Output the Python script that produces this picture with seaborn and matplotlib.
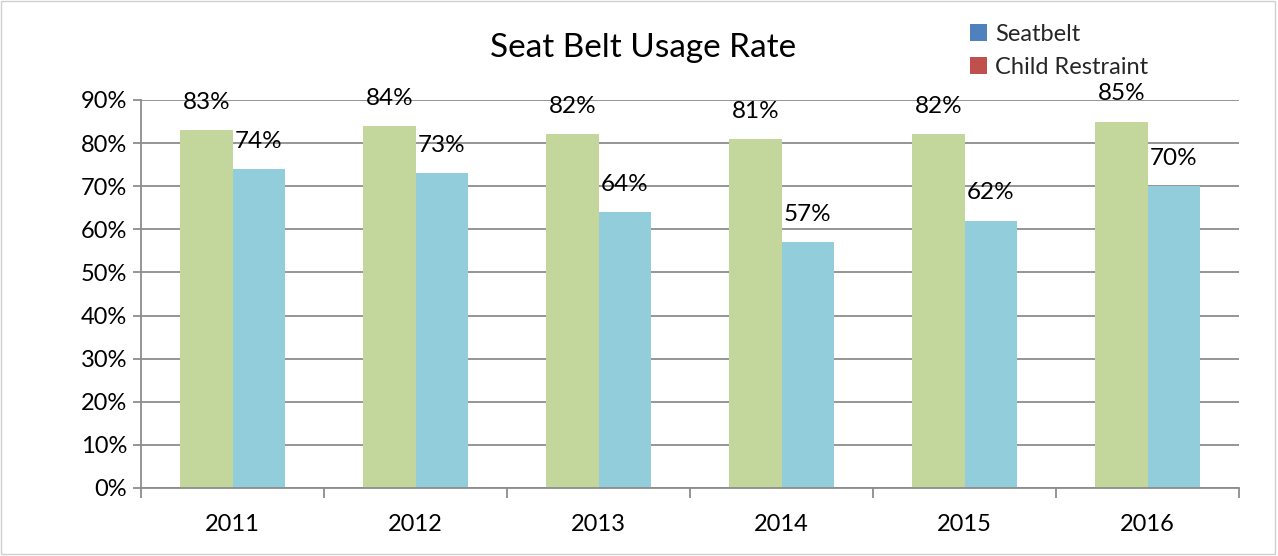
import matplotlib
matplotlib.use("Agg")
import matplotlib.pyplot as plt
import seaborn as sns
import pandas as pd
from matplotlib.patches import Patch, Rectangle
from matplotlib.ticker import PercentFormatter, FixedLocator

years = ["2011", "2012", "2013", "2014", "2015", "2016"]
seatbelt = [83, 84, 82, 81, 82, 85]
child_restraint = [74, 73, 64, 57, 62, 70]
series_names = ["Seatbelt", "Child Restraint"]
bar_colors = ["#C3D69B", "#92CDDC"]
legend_colors = ["#4F81BD", "#C0504D"]

df = pd.DataFrame({
    "year": years * 2,
    "value": seatbelt + child_restraint,
    "series": [series_names[0]] * len(years) + [series_names[1]] * len(years),
})

sns.set_theme(style="white")
plt.rcParams['font.family'] = ['Lato', 'DejaVu Sans']

fig = plt.figure(figsize=(12.78, 5.56), dpi=100)
ax = fig.add_axes([141/1278, 1 - 488/556, (1239-141)/1278, (488-100)/556])

sns.barplot(data=df, x="year", y="value", hue="series", palette=bar_colors,
            width=0.574, saturation=1, ax=ax, legend=False, errorbar=None,
            linewidth=0, edgecolor="none")

ax.set_ylim(0, 90)
ax.set_xlim(-0.5, 5.5)
ax.set_yticks(range(0, 91, 10))
ax.yaxis.set_major_formatter(PercentFormatter(decimals=0))
ax.yaxis.grid(True, color="#8C8C8C", linewidth=1.3)
ax.set_axisbelow(True)
ax.set_xlabel("")
ax.set_ylabel("")

for s in ["top", "right"]:
    ax.spines[s].set_visible(False)
for s in ["left", "bottom"]:
    ax.spines[s].set_color("#8C8C8C")
    ax.spines[s].set_linewidth(1.3)

FS = 17
ax.tick_params(axis="y", which="major", left=True, length=6, color="#8C8C8C",
               width=1.3, labelsize=FS, pad=4, labelcolor="black")
ax.tick_params(axis="x", which="major", bottom=False, labelsize=FS, pad=13,
               labelcolor="black")
ax.xaxis.set_minor_locator(FixedLocator([i - 0.5 for i in range(len(years) + 1)]))
ax.tick_params(axis="x", which="minor", bottom=True, length=7, color="#8C8C8C",
               width=1.3)

for container in ax.containers:
    for bar in container:
        h = bar.get_height()
        ax.annotate(f"{h:.0f}%", (bar.get_x() + bar.get_width() / 2, h),
                    xytext=(0, 20), textcoords="offset points",
                    ha="center", va="center", fontsize=17.5, color="black")

fig.text(643/1278, 1 - 48/556, "Seat Belt Usage Rate", ha="center", va="center",
         fontsize=24, color="black")

handles = [Patch(facecolor=c, edgecolor="none", label=n)
           for c, n in zip(legend_colors, series_names)]
fig.legend(handles=handles, loc="upper left", bbox_to_anchor=(970/1278, 1 - 24/556),
           frameon=False, fontsize=17, handlelength=0.7, handleheight=0.7,
           handletextpad=0.35, labelspacing=0.5, borderaxespad=0, borderpad=0)

fig.patches.append(Rectangle((0.001, 0.004), 0.997, 0.994, transform=fig.transFigure,
                             fill=False, edgecolor="#D0D0D0", linewidth=1))

fig.savefig("out.png", dpi=100)
